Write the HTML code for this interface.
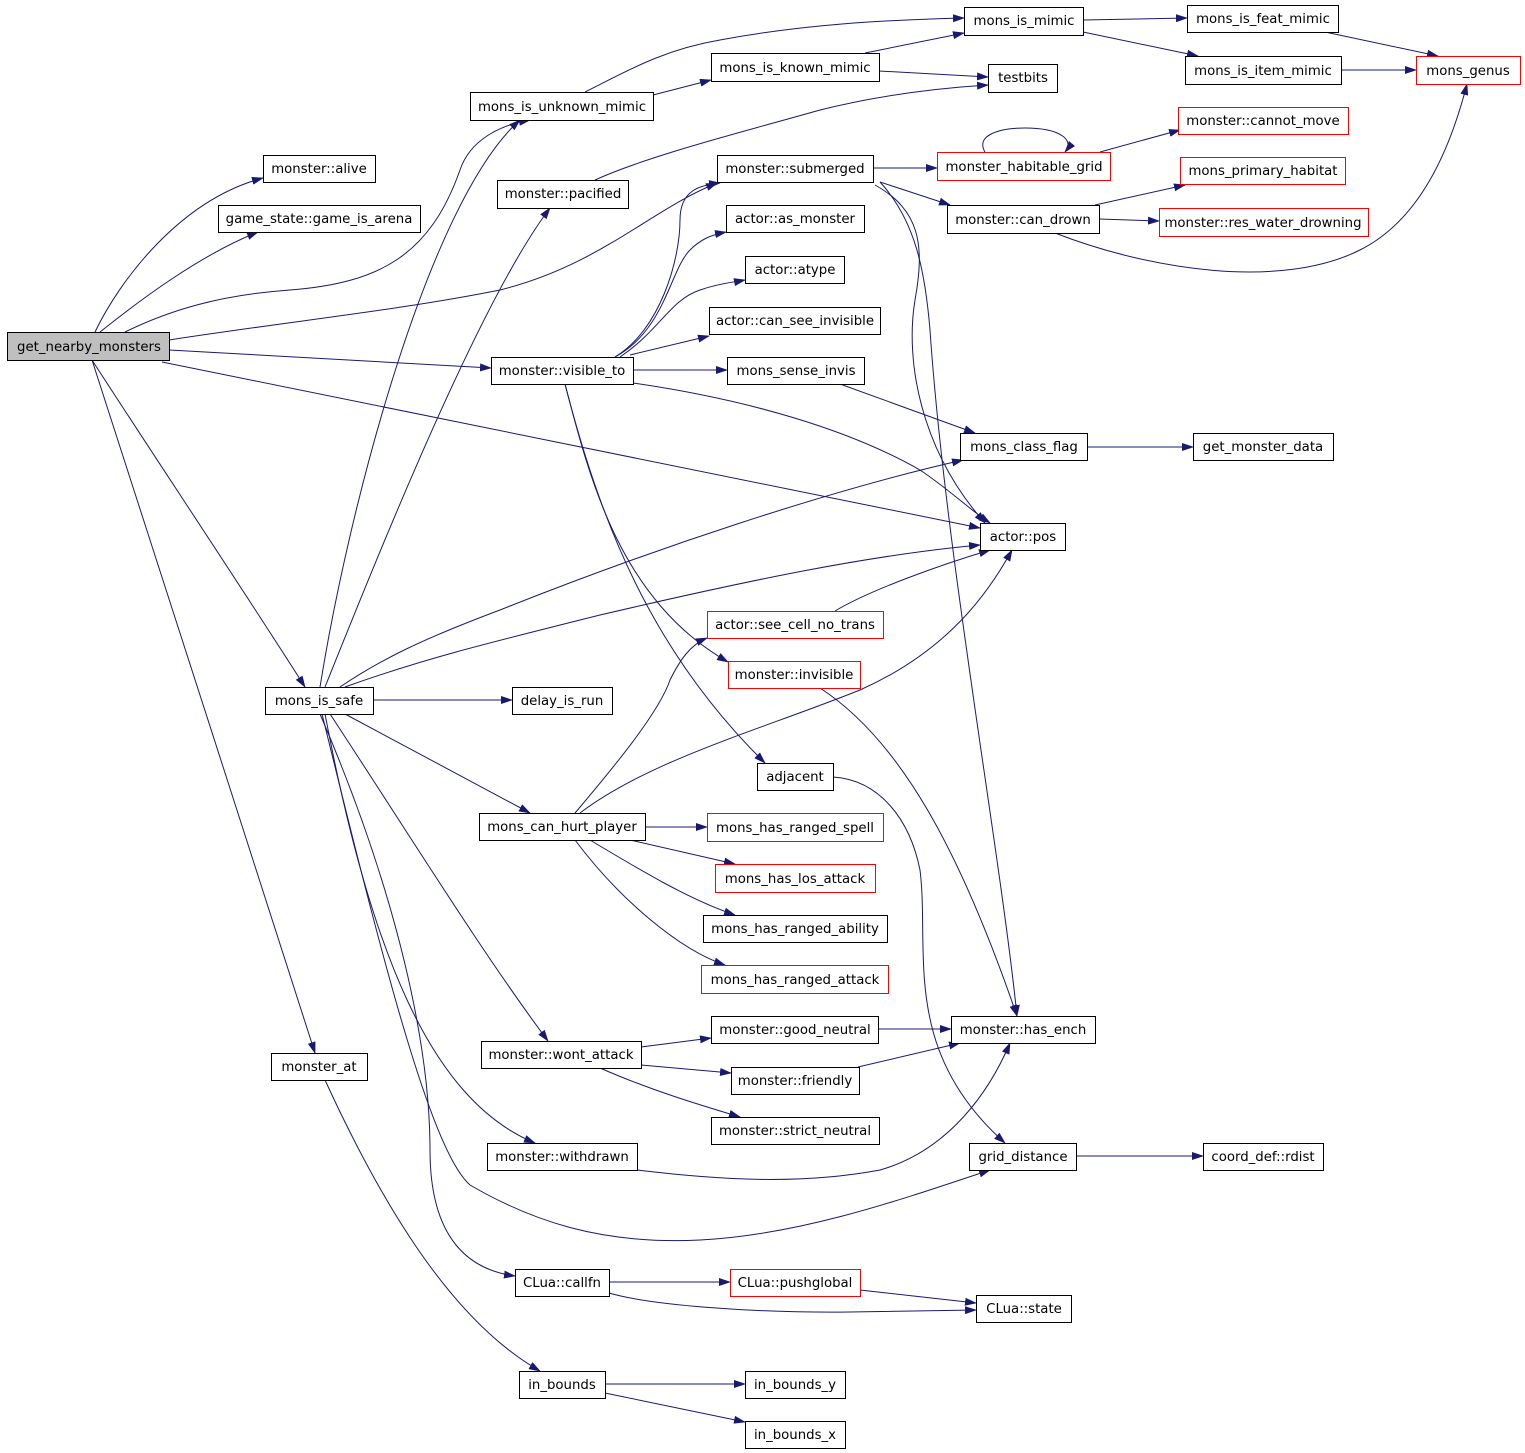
<!DOCTYPE html>
<html><head><meta charset="utf-8"><style>
html,body{margin:0;padding:0;background:#fff;}
svg{display:block;}
text{font-family:"DejaVu Sans","Liberation Sans",sans-serif;font-size:13.3px;fill:#000;}
</style></head><body>
<svg width="1525" height="1453" viewBox="0 0 1525 1453" xmlns="http://www.w3.org/2000/svg">
<defs>
<marker id="a" markerWidth="12" markerHeight="8" refX="11" refY="4" orient="auto" markerUnits="userSpaceOnUse">
<path d="M0,0 L12,4 L0,8 z" fill="#191970"/>
</marker>
</defs>
<g fill="none" stroke="#191970" stroke-width="1" marker-end="url(#a)">
<path d="M95,332 C120,280 180,200 263,178"/>
<path d="M100,332 C140,300 200,255 258,232"/>
<path d="M125,332 C170,310 220,295 290,290 C380,283 430,255 460,170 C470,140 500,125 530,120"/>
<path d="M169,340 C300,320 400,310 500,290 C600,265 650,210 717,183"/>
<path d="M169,350 L491,368"/>
<path d="M162,362 L980,528"/>
<path d="M92,360 C150,450 250,600 305,687"/>
<path d="M92,360 C150,540 250,850 315,1053"/>
<path d="M585,92 C620,75 660,50 720,40 C800,25 880,20 964,18"/>
<path d="M653,95 L711,80"/>
<path d="M865,53 L964,33"/>
<path d="M879,71 L988,77"/>
<path d="M1083,20 L1187,18"/>
<path d="M1083,32 L1198,56"/>
<path d="M1325,32 L1438,56"/>
<path d="M1341,70 L1416,70"/>
<path d="M595,180 C650,155 750,130 820,110 C880,95 940,88 988,85"/>
<path d="M873,168 L937,168"/>
<path d="M985,152 C975,135 1000,128 1025,128 C1060,128 1075,140 1065,152"/>
<path d="M1100,152 L1180,130"/>
<path d="M880,182 L950,205"/>
<path d="M875,185 C920,210 925,245 915,300 C905,360 920,450 985,523"/>
<path d="M880,182 C915,220 925,270 930,330 C945,550 1000,850 1017,1016"/>
<path d="M1095,205 L1185,185"/>
<path d="M1099,219 L1159,221"/>
<path d="M1055,233 C1150,270 1280,290 1360,250 C1420,220 1450,150 1467,84"/>
<path d="M615,357 C660,330 680,260 680,220 C680,190 700,185 720,183"/>
<path d="M615,357 C665,330 670,270 690,250 C700,240 710,235 726,232"/>
<path d="M620,357 C660,330 670,300 700,290 C720,283 735,282 745,280"/>
<path d="M630,355 L709,336"/>
<path d="M633,370 L727,370"/>
<path d="M633,383 C750,400 850,430 920,470 C950,490 970,510 990,523"/>
<path d="M565,384 C590,480 620,600 728,662"/>
<path d="M565,384 C600,520 650,650 765,763"/>
<path d="M840,384 L975,433"/>
<path d="M1087,447 L1193,447"/>
<path d="M835,611 C870,590 940,565 990,550"/>
<path d="M820,688 C900,740 960,850 1017,1016"/>
<path d="M833,777 C880,780 910,820 920,870 C930,950 900,1050 1005,1143"/>
<path d="M320,687 C350,500 430,200 520,120"/>
<path d="M325,687 C380,550 480,300 550,208"/>
<path d="M340,687 C380,660 420,640 500,610 C650,550 830,490 963,460"/>
<path d="M345,687 C420,660 480,645 600,615 C750,580 870,555 980,545"/>
<path d="M373,700 L512,700"/>
<path d="M345,714 L530,813"/>
<path d="M330,714 C400,820 480,950 548,1041"/>
<path d="M325,714 C370,950 430,1100 535,1143"/>
<path d="M322,714 C380,950 430,1150 470,1185 C530,1220 600,1245 700,1240 C800,1235 900,1200 990,1170"/>
<path d="M320,714 C400,900 430,1050 430,1150 C430,1240 470,1270 515,1276"/>
<path d="M575,813 C620,760 660,710 670,680 C680,660 690,645 707,638"/>
<path d="M580,813 C650,760 760,730 860,690 C950,650 990,590 1012,550"/>
<path d="M645,827 L707,827"/>
<path d="M630,840 L735,864"/>
<path d="M590,840 C640,870 690,900 735,915"/>
<path d="M575,840 C620,900 680,950 725,965"/>
<path d="M641,1047 L711,1038"/>
<path d="M641,1065 L731,1073"/>
<path d="M600,1068 C650,1090 700,1105 740,1117"/>
<path d="M878,1029 L951,1029"/>
<path d="M858,1067 L960,1043"/>
<path d="M637,1170 C720,1180 800,1185 880,1170 C950,1150 990,1090 1010,1043"/>
<path d="M1076,1156 L1203,1156"/>
<path d="M609,1282 L730,1282"/>
<path d="M609,1293 C650,1305 750,1313 850,1312 L976,1310"/>
<path d="M860,1290 L976,1303"/>
<path d="M325,1080 C380,1200 450,1320 540,1371"/>
<path d="M605,1384 L745,1384"/>
<path d="M605,1393 L745,1422"/>
</g>
<g stroke-width="1" fill="#fff">
<rect x="7.5" y="332.5" width="162" height="28" fill="#bfbfbf" stroke="#000"/>
<rect x="263.5" y="155.5" width="112" height="27" stroke="#000"/>
<rect x="218.5" y="205.5" width="202" height="27" stroke="#000"/>
<rect x="470.5" y="92.5" width="183" height="28" stroke="#000"/>
<rect x="497.5" y="180.5" width="131" height="28" stroke="#000"/>
<rect x="964.5" y="7.5" width="119" height="28" stroke="#000"/>
<rect x="711.5" y="53.5" width="168" height="28" stroke="#000"/>
<rect x="988.5" y="64.5" width="69" height="28" stroke="#000"/>
<rect x="1187.5" y="5.5" width="151" height="27" stroke="#000"/>
<rect x="1185.5" y="56.5" width="156" height="28" stroke="#000"/>
<rect x="1416.5" y="56.5" width="104" height="28" stroke="#f00"/>
<rect x="1178.5" y="107.5" width="170" height="27" stroke="#f00"/>
<rect x="937.5" y="152.5" width="173" height="28" stroke="#f00"/>
<rect x="717.5" y="155.5" width="156" height="27" stroke="#000"/>
<rect x="1180.5" y="157.5" width="165" height="27" stroke="#f00"/>
<rect x="947.5" y="205.5" width="152" height="28" stroke="#000"/>
<rect x="1159.5" y="208.5" width="209" height="28" stroke="#f00"/>
<rect x="726.5" y="205.5" width="138" height="27" stroke="#000"/>
<rect x="745.5" y="256.5" width="99" height="27" stroke="#000"/>
<rect x="709.5" y="307.5" width="171" height="27" stroke="#000"/>
<rect x="491.5" y="357.5" width="142" height="27" stroke="#000"/>
<rect x="727.5" y="357.5" width="137" height="27" stroke="#000"/>
<rect x="960.5" y="433.5" width="127" height="27" stroke="#000"/>
<rect x="1193.5" y="433.5" width="140" height="27" stroke="#000"/>
<rect x="980.5" y="523.5" width="85" height="27" stroke="#000"/>
<rect x="707.5" y="611.5" width="176" height="27" stroke="#f00"/>
<rect x="728.5" y="661.5" width="132" height="27" stroke="#f00"/>
<rect x="265.5" y="687.5" width="108" height="27" stroke="#000"/>
<rect x="512.5" y="687.5" width="100" height="27" stroke="#000"/>
<rect x="757.5" y="763.5" width="76" height="27" stroke="#000"/>
<rect x="479.5" y="813.5" width="166" height="27" stroke="#000"/>
<rect x="707.5" y="813.5" width="176" height="28" stroke="#f00"/>
<rect x="715.5" y="864.5" width="160" height="28" stroke="#f00"/>
<rect x="703.5" y="915.5" width="184" height="27" stroke="#000"/>
<rect x="701.5" y="965.5" width="187" height="28" stroke="#f00"/>
<rect x="711.5" y="1016.5" width="167" height="27" stroke="#000"/>
<rect x="951.5" y="1016.5" width="144" height="27" stroke="#000"/>
<rect x="481.5" y="1041.5" width="160" height="27" stroke="#000"/>
<rect x="271.5" y="1053.5" width="96" height="27" stroke="#000"/>
<rect x="731.5" y="1067.5" width="128" height="27" stroke="#000"/>
<rect x="711.5" y="1117.5" width="168" height="27" stroke="#000"/>
<rect x="487.5" y="1143.5" width="150" height="27" stroke="#000"/>
<rect x="969.5" y="1143.5" width="107" height="27" stroke="#000"/>
<rect x="1203.5" y="1143.5" width="120" height="27" stroke="#000"/>
<rect x="515.5" y="1269.5" width="94" height="27" stroke="#000"/>
<rect x="730.5" y="1269.5" width="130" height="27" stroke="#f00"/>
<rect x="976.5" y="1295.5" width="95" height="27" stroke="#000"/>
<rect x="519.5" y="1371.5" width="86" height="27" stroke="#000"/>
<rect x="745.5" y="1371.5" width="100" height="27" stroke="#000"/>
<rect x="745.5" y="1421.5" width="100" height="27" stroke="#000"/>
</g>
<g text-anchor="middle">
<text x="89" y="351">get_nearby_monsters</text>
<text x="319" y="173">monster::alive</text>
<text x="319" y="223">game_state::game_is_arena</text>
<text x="562" y="111">mons_is_unknown_mimic</text>
<text x="563" y="198">monster::pacified</text>
<text x="1024" y="25">mons_is_mimic</text>
<text x="795" y="72">mons_is_known_mimic</text>
<text x="1023" y="82">testbits</text>
<text x="1263" y="23">mons_is_feat_mimic</text>
<text x="1263" y="75">mons_is_item_mimic</text>
<text x="1468" y="75">mons_genus</text>
<text x="1263" y="125">monster::cannot_move</text>
<text x="1024" y="171">monster_habitable_grid</text>
<text x="795" y="173">monster::submerged</text>
<text x="1263" y="175">mons_primary_habitat</text>
<text x="1023" y="224">monster::can_drown</text>
<text x="1263" y="227">monster::res_water_drowning</text>
<text x="795" y="223">actor::as_monster</text>
<text x="795" y="274">actor::atype</text>
<text x="795" y="325">actor::can_see_invisible</text>
<text x="562" y="375">monster::visible_to</text>
<text x="796" y="375">mons_sense_invis</text>
<text x="1024" y="451">mons_class_flag</text>
<text x="1263" y="451">get_monster_data</text>
<text x="1023" y="541">actor::pos</text>
<text x="795" y="629">actor::see_cell_no_trans</text>
<text x="794" y="679">monster::invisible</text>
<text x="319" y="705">mons_is_safe</text>
<text x="562" y="705">delay_is_run</text>
<text x="795" y="781">adjacent</text>
<text x="562" y="831">mons_can_hurt_player</text>
<text x="795" y="832">mons_has_ranged_spell</text>
<text x="795" y="883">mons_has_los_attack</text>
<text x="795" y="933">mons_has_ranged_ability</text>
<text x="795" y="984">mons_has_ranged_attack</text>
<text x="795" y="1034">monster::good_neutral</text>
<text x="1023" y="1034">monster::has_ench</text>
<text x="561" y="1059">monster::wont_attack</text>
<text x="319" y="1071">monster_at</text>
<text x="795" y="1085">monster::friendly</text>
<text x="795" y="1135">monster::strict_neutral</text>
<text x="562" y="1161">monster::withdrawn</text>
<text x="1023" y="1161">grid_distance</text>
<text x="1263" y="1161">coord_def::rdist</text>
<text x="562" y="1287">CLua::callfn</text>
<text x="795" y="1287">CLua::pushglobal</text>
<text x="1024" y="1313">CLua::state</text>
<text x="562" y="1389">in_bounds</text>
<text x="795" y="1389">in_bounds_y</text>
<text x="795" y="1439">in_bounds_x</text>
</g>
</svg>
</body></html>
